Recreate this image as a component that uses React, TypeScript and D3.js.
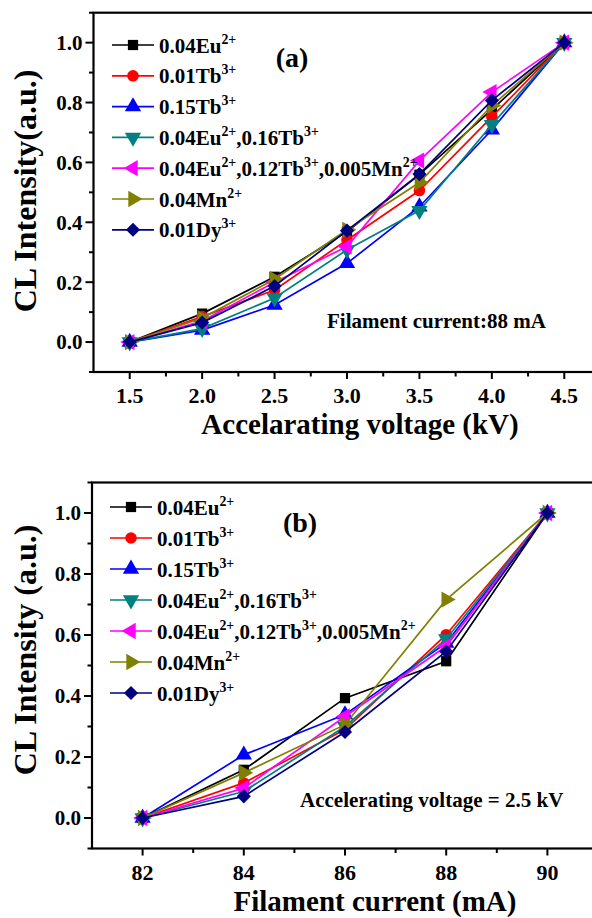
import React from "react";
import * as d3 from "d3";

// series (same order in both panels)
const seriesNames = [
  [["0.04Eu", "2+"]],
  [["0.01Tb", "3+"]],
  [["0.15Tb", "3+"]],
  [["0.04Eu", "2+"], [",0.16Tb", "3+"]],
  [["0.04Eu", "2+"], [",0.12Tb", "3+"], [",0.005Mn", "2+"]],
  [["0.04Mn", "2+"]],
  [["0.01Dy", "3+"]],
];
const seriesColors = ["#000000", "#ff0000", "#0000ff", "#008080", "#ff00ff", "#808000", "#000080"];
const seriesShapes = ["square", "circle", "up", "down", "left", "right", "diamond"];

// panel (a): accelerating voltage
const voltage = [1.5, 2.0, 2.5, 3.0, 3.5, 4.0, 4.5];
const voltageValues = [
  [0, 0.095, 0.218, 0.369, 0.559, 0.776, 1],
  [0, 0.085, 0.174, 0.341, 0.506, 0.752, 1],
  [0, 0.04, 0.124, 0.263, 0.452, 0.709, 1],
  [0, 0.045, 0.147, 0.308, 0.439, 0.726, 1],
  [0, 0.07, 0.2, 0.319, 0.606, 0.835, 1],
  [0, 0.08, 0.21, 0.375, 0.533, 0.79, 1],
  [0, 0.065, 0.187, 0.372, 0.561, 0.807, 1],
];
const voltageTicks = [1.5, 2.0, 2.5, 3.0, 3.5, 4.0, 4.5];

// panel (b): filament current
const current = [82, 84, 86, 88, 90];
const currentValues = [
  [0, 0.158, 0.393, 0.514, 1],
  [0, 0.115, 0.29, 0.601, 1],
  [0, 0.207, 0.339, 0.574, 1],
  [0, 0.087, 0.3, 0.587, 1],
  [0, 0.098, 0.333, 0.563, 1],
  [0, 0.148, 0.306, 0.716, 1],
  [0, 0.071, 0.282, 0.546, 1],
];
const currentTicks = [82, 84, 86, 88, 90];

const yTicks = [0, 0.2, 0.4, 0.6, 0.8, 1.0];

const FONT = "'Liberation Serif', 'Times New Roman', serif";

function markerPath(shape: string) {
  if (shape === "square") return { d: d3.symbol(d3.symbolSquare, 105)()!, rot: 0 };
  if (shape === "circle") return { d: d3.symbol(d3.symbolCircle, 105)()!, rot: 0 };
  if (shape === "diamond") return { d: d3.symbol(d3.symbolSquare, 100)()!, rot: 45 };
  const tri = d3.symbol(d3.symbolTriangle, 115)()!;
  const rot = { up: 0, down: 180, left: -90, right: 90 }[shape] as number;
  return { d: tri, rot };
}

function Marker({ x, y, i }: { x: number; y: number; i: number }) {
  const m = markerPath(seriesShapes[i]);
  return (
    <path
      d={m.d}
      transform={`translate(${x},${y}) rotate(${m.rot})`}
      fill={seriesColors[i]}
    />
  );
}

function Label({ parts, x, y, size }: { parts: string[][]; x: number; y: number; size: number }) {
  const sup = size * 0.66;
  const up = size * 0.42;
  return (
    <text x={x} y={y} fontSize={size} fontWeight="bold" fontFamily={FONT}>
      {parts.map(([base, s], k) => (
        <React.Fragment key={k}>
          <tspan dy={k === 0 ? 0 : up}>{base}</tspan>
          <tspan dy={-up} fontSize={sup}>{s}</tspan>
        </React.Fragment>
      ))}
    </text>
  );
}

type PanelProps = {
  xs: number[];
  values: number[][];
  xDomain: [number, number];
  xRange: [number, number];
  yRange: [number, number];
  xTicks: number[];
  xMinor: number[];
  xFormat: (v: number) => string;
  xTitle: string;
  xTitleX: number;
  yTitle: string;
  yTitleY: number;
  tag: string;
  tagPos: [number, number];
  note: string;
  notePos: [number, number];
  legendTop: number;
  legendStep: number;
  legendX: number;
};

function Panel(p: PanelProps) {
  const x = d3.scaleLinear().domain(p.xDomain).range(p.xRange);
  const y = d3.scaleLinear().domain([-0.1, 1.1]).range(p.yRange);
  const [x0, x1] = p.xRange;
  const [yb, yt] = p.yRange;
  const line = d3
    .line<number>()
    .x((_, j) => x(p.xs[j]))
    .y((v) => y(v));
  const yMinor = d3.range(-0.1, 1.11, 0.2).map((v) => +v.toFixed(2));
  return (
    <g>
      {/* series */}
      {p.values.map((vals, i) => (
        <g key={i}>
          <path d={line(vals)!} fill="none" stroke={seriesColors[i]} strokeWidth={1.7} />
          {vals.map((v, j) => (
            <Marker key={j} x={x(p.xs[j])} y={y(v)} i={i} />
          ))}
        </g>
      ))}
      {/* frame */}
      <rect x={x0} y={yt} width={x1 - x0} height={yb - yt} fill="none" stroke="#000" strokeWidth={2.2} />
      {/* y ticks */}
      {yTicks.map((t) => (
        <g key={t}>
          <line x1={x0 - 8} x2={x0} y1={y(t)} y2={y(t)} stroke="#000" strokeWidth={2} />
          <text
            x={x0 - 11}
            y={y(t)}
            dy="0.35em"
            textAnchor="end"
            fontSize={21}
            fontWeight="bold"
            fontFamily={FONT}
          >
            {t.toFixed(1)}
          </text>
        </g>
      ))}
      {yMinor.map((t) => (
        <line key={t} x1={x0 - 4.5} x2={x0} y1={y(t)} y2={y(t)} stroke="#000" strokeWidth={2} />
      ))}
      {/* x ticks */}
      {p.xTicks.map((t) => (
        <g key={t}>
          <line x1={x(t)} x2={x(t)} y1={yb} y2={yb + 7} stroke="#000" strokeWidth={2} />
          <text
            x={x(t)}
            y={yb + 31}
            textAnchor="middle"
            fontSize={22}
            fontWeight="bold"
            fontFamily={FONT}
          >
            {p.xFormat(t)}
          </text>
        </g>
      ))}
      {p.xMinor.map((t) => (
        <line key={t} x1={x(t)} x2={x(t)} y1={yb} y2={yb + 4.5} stroke="#000" strokeWidth={2} />
      ))}
      {/* titles */}
      <text
        x={p.xTitleX}
        y={yb + 62}
        textAnchor="middle"
        fontSize={29}
        fontWeight="bold"
        fontFamily={FONT}
      >
        {p.xTitle}
      </text>
      <text
        transform={`translate(36,${p.yTitleY}) rotate(-90)`}
        textAnchor="middle"
        fontSize={32}
        fontWeight="bold"
        fontFamily={FONT}
      >
        {p.yTitle}
      </text>
      <text x={p.tagPos[0]} y={p.tagPos[1]} textAnchor="middle" fontSize={28} fontWeight="bold" fontFamily={FONT}>
        {p.tag}
      </text>
      <text x={p.notePos[0]} y={p.notePos[1]} fontSize={21} fontWeight="bold" fontFamily={FONT}>
        {p.note}
      </text>
      {/* legend */}
      {seriesNames.map((parts, i) => {
        const ry = p.legendTop + i * p.legendStep;
        return (
          <g key={i}>
            <line x1={p.legendX} x2={p.legendX + 42} y1={ry} y2={ry} stroke={seriesColors[i]} strokeWidth={1.7} />
            <Marker x={p.legendX + 21} y={ry} i={i} />
            <Label parts={parts} x={p.legendX + 47} y={ry + 7.5} size={21} />
          </g>
        );
      })}
    </g>
  );
}

export default function App() {
  return (
    <svg
      width={592}
      height={918}
      style={{ position: "absolute", left: 0, top: 0, background: "#fff" }}
    >
      <Panel
        xs={voltage}
        values={voltageValues}
        xDomain={[1.25, 4.75]}
        xRange={[93.5, 600.5]}
        yRange={[372, 12.7]}
        xTicks={voltageTicks}
        xMinor={voltageTicks.slice(0, -1).map((t) => t + 0.25)}
        xFormat={(v) => v.toFixed(1)}
        xTitle="Accelarating voltage (kV)"
        xTitleX={360}
        yTitle="CL Intensity(a.u.)"
        yTitleY={191}
        tag="(a)"
        tagPos={[292, 67]}
        note="Filament current:88 mA"
        notePos={[327, 328]}
        legendTop={45}
        legendStep={30.8}
        legendX={112}
      />
      <Panel
        xs={current}
        values={currentValues}
        xDomain={[81, 91]}
        xRange={[92, 598]}
        yRange={[848.5, 482.5]}
        xTicks={currentTicks}
        xMinor={currentTicks.slice(0, -1).map((t) => t + 1)}
        xFormat={(v) => String(v)}
        xTitle="Filament current (mA)"
        xTitleX={375}
        yTitle="CL Intensity (a.u.)"
        yTitleY={650}
        tag="(b)"
        tagPos={[300, 532]}
        note="Accelerating voltage = 2.5 kV"
        notePos={[300, 807]}
        legendTop={507}
        legendStep={31}
        legendX={110}
      />
    </svg>
  );
}
